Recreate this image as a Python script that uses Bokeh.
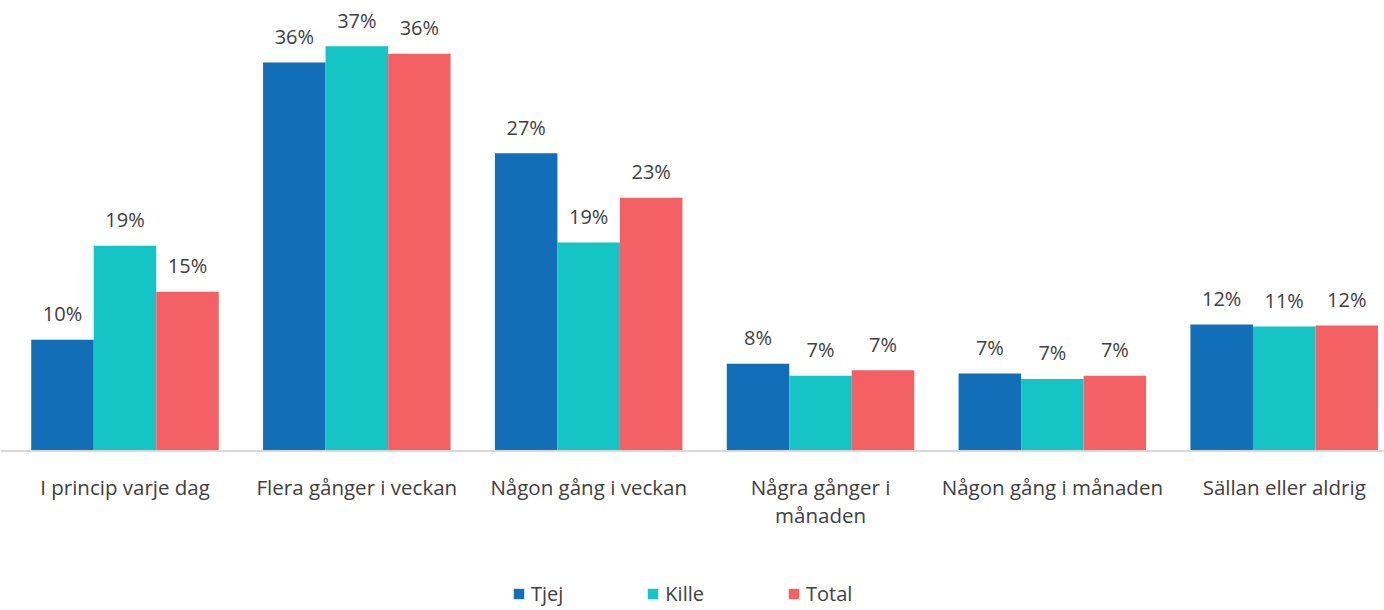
from bokeh.plotting import figure
from bokeh.models import ColumnDataSource, Range1d, Span, Legend, LegendItem
from bokeh.transform import dodge
from bokeh.core.properties import value
from bokeh.embed import file_html
from bokeh.resources import INLINE

categories = [
    "I princip varje dag",
    "Flera gånger i veckan",
    "Någon gång i veckan",
    "Några gånger i\nmånaden",
    "Någon gång i månaden",
    "Sällan eller aldrig",
]
series = ["Tjej", "Kille", "Total"]
tjej = [10.2, 35.6, 27.3, 8.0, 7.1, 11.6]
kille = [18.8, 37.1, 19.1, 6.9, 6.6, 11.4]
total = [14.6, 36.4, 23.2, 7.4, 6.9, 11.5]
colors = ["#116EB7", "#15C4C4", "#F46164"]

FONT = value("Open Sans")
TXT = "#404040"
BAR_W = 0.2696

xs = list(range(len(categories)))
src = ColumnDataSource(dict(
    x=xs, tjej=tjej, kille=kille, total=total,
    tjej_l=[f"{v:.0f}%" for v in tjej],
    kille_l=[f"{v:.0f}%" for v in kille],
    total_l=[f"{v:.0f}%" for v in total],
    line1=[c.split("\n")[0] for c in categories],
    line2=[c.split("\n")[1] if "\n" in c else "" for c in categories],
    zero=[0] * len(categories),
))

p = figure(width=1384, height=610, x_range=Range1d(-0.537, 5.4326),
           y_range=Range1d(-14.62, 41.29), x_axis_type=None, y_axis_type=None,
           toolbar_location=None, output_backend="svg", min_border=0,
           outline_line_color=None)
p.xgrid.grid_line_color = None
p.ygrid.grid_line_color = None

p.add_layout(Span(location=0, dimension="width", line_color="#D9D9D9", line_width=2))

renderers = []
for col, off, color in zip(["tjej", "kille", "total"], [-BAR_W, 0, BAR_W], colors):
    r = p.vbar(x=dodge("x", off, range=p.x_range), top=col, width=BAR_W, source=src,
               fill_color=color, line_color=None)
    renderers.append(r)
    p.text(x=dodge("x", off, range=p.x_range), y=col, text=col + "_l", source=src,
           text_font=FONT, text_font_size="20px", text_color=TXT,
           text_align="center", text_baseline="alphabetic", y_offset=-26)

p.text(x="x", y="zero", text="line1", source=src, text_font=FONT, text_font_size="20.5px",
       text_color=TXT, text_align="center", text_baseline="alphabetic", y_offset=36)
p.text(x="x", y="zero", text="line2", source=src, text_font=FONT, text_font_size="20.5px",
       text_color=TXT, text_align="center", text_baseline="alphabetic", y_offset=64.5)

legend = Legend(items=[LegendItem(label=s, renderers=[r]) for s, r in zip(series, renderers)],
                orientation="horizontal", location=(512, 3.5), glyph_width=13, glyph_height=13,
                label_standoff=6, spacing=83, padding=0, margin=0,
                border_line_color=None, background_fill_alpha=0,
                label_text_font="Open Sans", label_text_font_size="20px",
                label_text_color=TXT)
p.add_layout(legend)

open("out.html", "w").write(file_html(p, INLINE))
